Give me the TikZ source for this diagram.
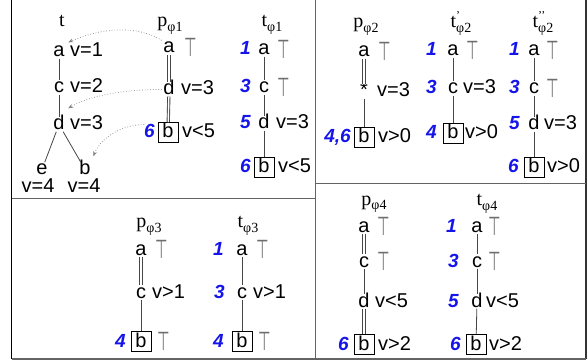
\documentclass[tikz,border=0pt]{standalone}
\usepackage{fontspec}
\usepackage{graphicx}
\setmainfont{Liberation Sans}
\newfontfamily\seriff{Liberation Serif}
\newfontfamily\dejavu{DejaVu Sans}
\usetikzlibrary{arrows.meta}
\definecolor{numblue}{RGB}{20,20,235}
\definecolor{edgegray}{RGB}{70,70,70}
\definecolor{topgray}{RGB}{110,110,110}
\definecolor{framegray}{RGB}{100,100,100}
\newcommand\topsym{\raisebox{-3.5pt}{\scalebox{0.72}[1.3]{\dejavu ⊤}}}
\newcommand\mysub[1]{\raisebox{-5pt}{\fontsize{14}{14}\selectfont #1}}
\newcommand\mysup[1]{\rlap{\raisebox{8pt}{\fontsize{12}{12}\selectfont #1}}}
\begin{document}
\begin{tikzpicture}[x=1pt,y=-1pt,
  lt/.style={inner sep=1.5pt, text height=11pt, text depth=0pt, anchor=base, font=\fontsize{20}{24}\selectfont},
  bx/.style={draw=black, line width=0.7pt, inner xsep=4.5pt, inner ysep=1.5pt, text height=14pt, text depth=3pt, anchor=base, font=\fontsize{20}{24}\selectfont},
  lab/.style={inner sep=0pt, anchor=base west, font=\fontsize{20}{24}\selectfont},
  clab/.style={inner sep=0pt, anchor=base, font=\fontsize{20}{24}\selectfont},
  num/.style={inner sep=0pt, anchor=base east, text=numblue, font=\fontsize{19}{24}\selectfont\bfseries\itshape},
  ttl/.style={inner sep=0pt, anchor=base, font=\seriff\fontsize{20}{24}\selectfont},
  tp/.style={inner sep=0pt, anchor=base west, text=topgray, font=\fontsize{20}{24}\selectfont},
  edge/.style={draw=edgegray, line width=0.8pt},
  dedge/.style={draw=edgegray, line width=0.9pt, double=white, double distance=1.4pt},
  darr/.style={draw=gray, dotted, line width=0.7pt, -{Stealth[length=5pt,width=4pt]}},
  frm/.style={draw=framegray, line width=1.2pt}
]
\useasboundingbox (0,0) rectangle (588,363);
% frames
\draw[black, line width=1pt] (11.5,0) -- (11.5,359);
\draw[frm] (315.5,0) -- (315.5,359);
\draw[draw=black!80, line width=1.4pt] (586,0) -- (586,359);
\draw[frm] (11.5,198.5) -- (315.5,198.5);
\draw[frm] (315.5,183.5) -- (586,183.5);
\draw[frm] (11.5,359) -- (586,359);

% ---- tree t
\node[ttl] (T0) at (62,27) {t};
\node[lt] (ta) at (59,57) {a};  \node[lab] (tl1) at (70,57) {v=1};
\node[lt] (tc) at (59,93) {c};  \node[lab] (tl2) at (70,93) {v=2};
\node[lt] (td) at (59,130) {d}; \node[lab] (tl3) at (70,130) {v=3};
\node[lt] (te) at (42,175) {e}; \node[lt] (tb) at (85,175) {b};
\node[clab] (tl4) at (38,193) {v=4}; \node[clab] (tl5) at (84,193) {v=4};
\draw[edge] (ta) -- (tc);
\draw[edge] (tc) -- (td);
\draw[edge] (td) -- (te);
\draw[edge] (td) -- (tb);

% ---- p_phi1
\node[ttl] (P1) at (170,27) {p\mysub{φ1}};
\node[lt] (pa) at (169,53) {a}; \node[tp] (pt1) at (184,53) {\topsym};
\node[lt] (pd) at (169,95) {d}; \node[lab] (pl1) at (181,95) {v=3};
\node[bx] (pb) at (168,138) {b}; \node[lab] (pl2) at (182,138) {v<5};
\node[num] (n6) at (155,138) {6};
\draw[dedge] (pa) -- (pd);
\draw[dedge] (pd) -- (pb);

% dotted arrows
\draw[darr] (pa.north west) .. controls +(-25,-15) and +(35,-15) .. ([xshift=2pt,yshift=2pt]ta.north east);
\draw[darr] (pd.west) .. controls +(-40,0) and +(20,-12) .. ([xshift=2pt,yshift=9pt]td.north east);
\draw[darr] (n6.north west) .. controls +(-20,0) and +(8,-20) .. ([xshift=1pt,yshift=6pt]tb.north east);

% ---- t_phi1
\node[ttl] (T1) at (272,27) {t\mysub{φ1}};
\node[num] (u1) at (251,55) {1}; \node[lt] (ua) at (264,55) {a}; \node[tp] (ut1) at (277,55) {\topsym};
\node[num] (u3) at (251,93) {3}; \node[lt] (uc) at (264,93) {c}; \node[tp] (ut2) at (277,93) {\topsym};
\node[num] (u5) at (251,129) {5}; \node[lt] (ud) at (264,129) {d}; \node[lab] (ul1) at (276,129) {v=3};
\node[num] (u6) at (251,173) {6}; \node[bx] (ub) at (264,173) {b}; \node[lab] (ul2) at (278,173) {v<5};
\draw[edge] (ua) -- (uc);
\draw[edge] (uc) -- (ud);
\draw[edge] (ud) -- (ub);

% ---- p_phi2
\node[ttl] (P2) at (366,28) {p\mysub{φ2}};
\node[lt] (qa) at (364,57) {a}; \node[tp] (qt1) at (378,57) {\topsym};
\node[lt] (qs) at (364,97) {*}; \node[lab] (ql1) at (377,97) {v=3};
\node[bx] (qb) at (364,143) {b}; \node[lab] (ql2) at (378,143) {v>0};
\node[num] (q46) at (351,143) {4,6};
\draw[dedge] (qa) -- (qs);
\draw[edge] (qs) -- (qb);

% ---- t'_phi2
\node[ttl] (T2) at (461,28) {t\mysup{’}\mysub{φ2}};
\node[num] (r1) at (437,56) {1}; \node[lt] (ra) at (453,56) {a}; \node[tp] (rt1) at (466,56) {\topsym};
\node[num] (r3) at (437,94) {3}; \node[lt] (rc) at (453,94) {c}; \node[lab] (rl1) at (463,94) {v=3};
\node[num] (r4) at (437,139) {4}; \node[bx] (rb) at (453,139) {b}; \node[lab] (rl2) at (465,139) {v>0};
\draw[edge] (ra) -- (rc);
\draw[edge] (rc) -- (rb);

% ---- t''_phi2
\node[ttl] (T3) at (543,28) {t\mysup{’’}\mysub{φ2}};
\node[num] (s1) at (520,56) {1}; \node[lt] (sa) at (534,56) {a}; \node[tp] (st1) at (546,56) {\topsym};
\node[num] (s3) at (520,94) {3}; \node[lt] (sc) at (534,94) {c}; \node[tp] (st2) at (546,94) {\topsym};
\node[num] (s5) at (520,130) {5}; \node[lt] (sd) at (534,130) {d}; \node[lab] (sl1) at (544,130) {v=3};
\node[num] (s6) at (519,173) {6}; \node[bx] (sb) at (534,173) {b}; \node[lab] (sl2) at (547,173) {v>0};
\draw[edge] (sa) -- (sc);
\draw[edge] (sc) -- (sd);
\draw[edge] (sd) -- (sb);

% ---- p_phi3
\node[ttl] (P3) at (149,227) {p\mysub{φ3}};
\node[lt] (va) at (141,255) {a}; \node[tp] (vt1) at (155,255) {\topsym};
\node[lt] (vc) at (141,298) {c}; \node[lab] (vl1) at (152,298) {v>1};
\node[bx] (vb) at (141,347) {b}; \node[tp] (vt2) at (157,347) {\topsym};
\node[num] (v4) at (126,347) {4};
\draw[dedge] (va) -- (vc);
\draw[edge] (vc) -- (vb);

% ---- t_phi3
\node[ttl] (T4) at (248,227) {t\mysub{φ3}};
\node[num] (w1) at (224,255) {1}; \node[lt] (wa) at (242,255) {a}; \node[tp] (wt1) at (256,255) {\topsym};
\node[num] (w3) at (225,298) {3}; \node[lt] (wc) at (242,298) {c}; \node[lab] (wl1) at (253,298) {v>1};
\node[num] (w4) at (224,347) {4}; \node[bx] (wb) at (242,347) {b}; \node[tp] (wt2) at (258,347) {\topsym};
\draw[edge] (wa) -- (wc);
\draw[edge] (wc) -- (wb);

% ---- p_phi4
\node[ttl] (P4) at (374,205) {p\mysub{φ4}};
\node[lt] (xa) at (364,232) {a}; \node[tp] (xt1) at (377,232) {\topsym};
\node[lt] (xc) at (364,267) {c}; \node[tp] (xt2) at (377,267) {\topsym};
\node[lt] (xd) at (364,307) {d}; \node[lab] (xl1) at (375,307) {v<5};
\node[bx] (xb) at (364,350) {b}; \node[lab] (xl2) at (378,350) {v>2};
\node[num] (x6) at (349,350) {6};
\draw[dedge] (xa) -- (xc);
\draw[edge] (xc) -- (xd);
\draw[dedge] (xd) -- (xb);

% ---- t_phi4
\node[ttl] (T5) at (487,206) {t\mysub{φ4}};
\node[num] (y1) at (457,232) {1}; \node[lt] (ya) at (477,232) {a}; \node[tp] (yt1) at (488,232) {\topsym};
\node[num] (y3) at (459,267) {3}; \node[lt] (yc) at (477,267) {c}; \node[tp] (yt2) at (488,267) {\topsym};
\node[num] (y5) at (459,307) {5}; \node[lt] (yd) at (477,307) {d}; \node[lab] (yl1) at (486,307) {v<5};
\node[num] (y6) at (461,350) {6}; \node[bx] (yb) at (476,350) {b}; \node[lab] (yl2) at (489,350) {v>2};
\draw[edge] (ya) -- (yc);
\draw[edge] (yc) -- (yd);
\draw[edge] (yd) -- (yb);
\end{tikzpicture}
\end{document}
